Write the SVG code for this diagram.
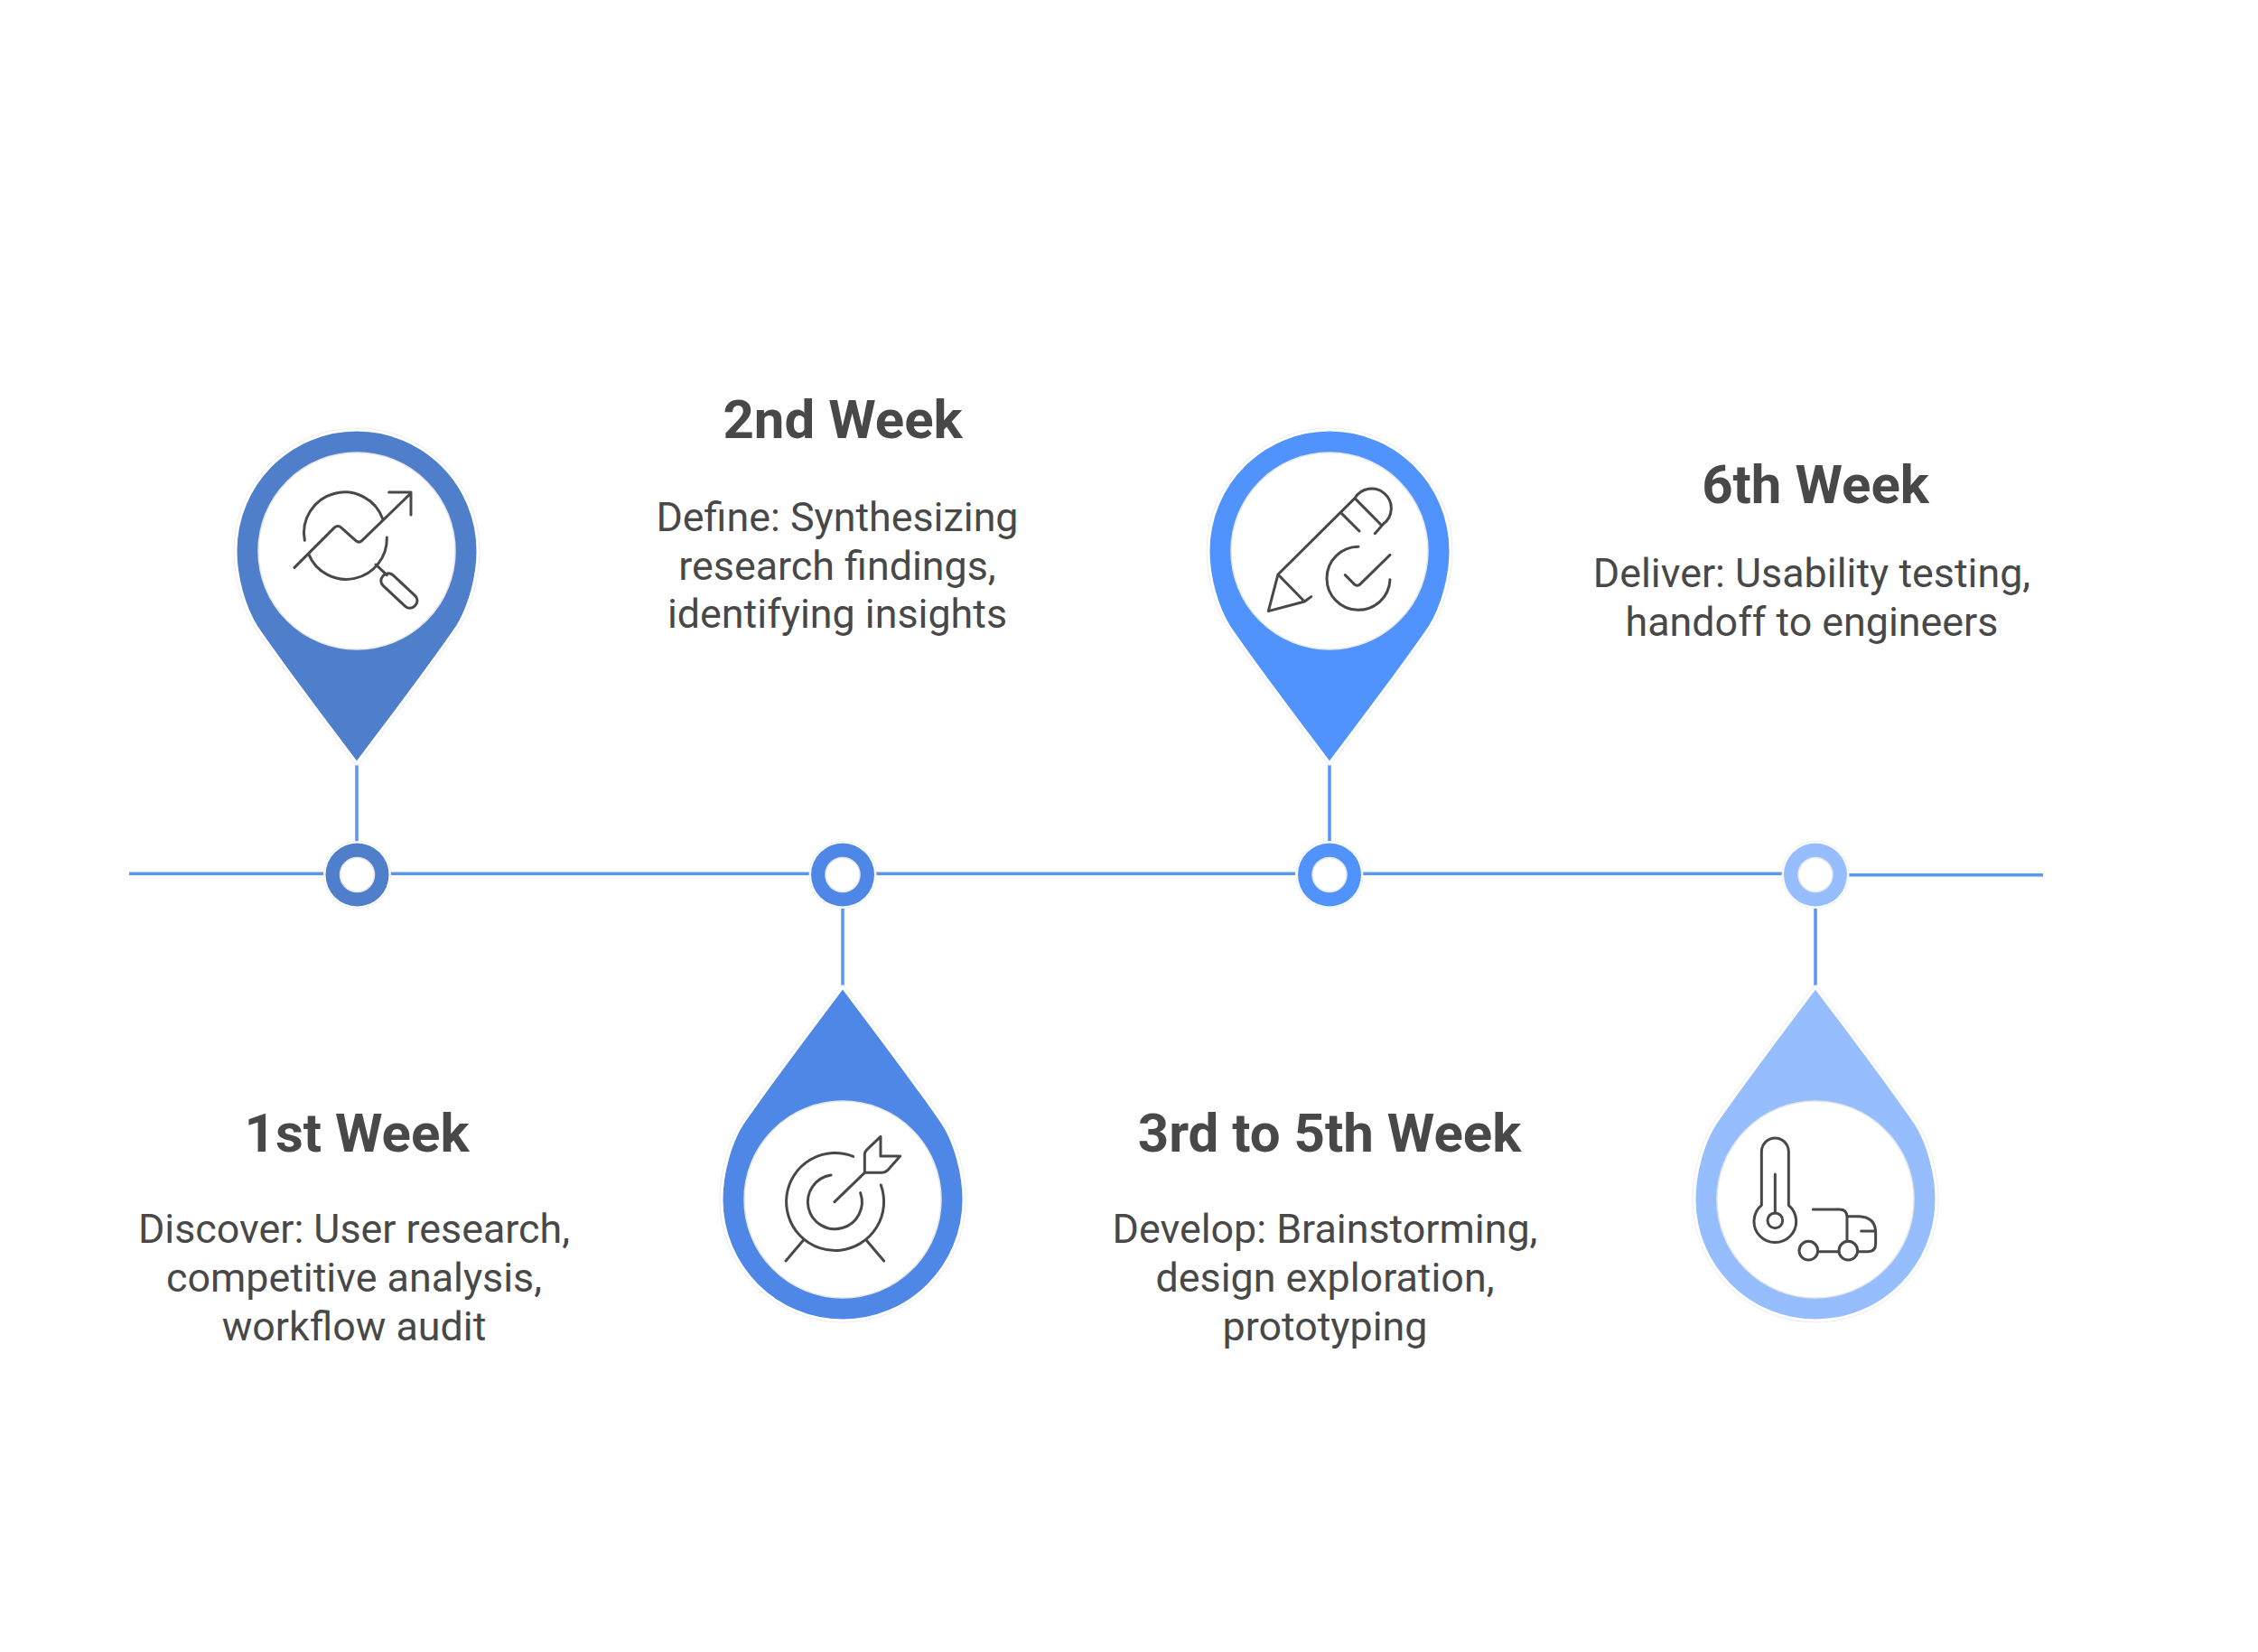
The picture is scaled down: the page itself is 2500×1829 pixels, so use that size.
<svg xmlns="http://www.w3.org/2000/svg" width="2500" height="1829" viewBox="0 0 2500 1829">
<style>
.h{font:700 60px Roboto,"Liberation Sans",sans-serif;fill:#484848;text-anchor:middle}
.b{font:400 44.8px Roboto,"Liberation Sans",sans-serif;fill:#484848;text-anchor:middle}
.c{stroke:#5a96f5;stroke-width:3.5;fill:none}
.i{fill:none;stroke:#484848;stroke-width:9;stroke-linecap:round;stroke-linejoin:round}
.ha{fill:none;stroke:#eceef1;stroke-width:5;stroke-linejoin:round}
.wh{stroke:#fff;stroke-width:3;stroke-linejoin:round}
.w{fill:#fff;stroke:#e4e6ea;stroke-width:1.5}
.n{fill:#fff;stroke:#eceef1;stroke-width:1}
</style>
<defs>
<path id="pinUp" d="M0 235C-26 200-76 135-111 84C-125 62-134 28-134 0C-134-74-74-134 0-134S134-74 134 0C134 28 125 62 111 84C76 135 26 200 0 235Z"/>
</defs>
<rect width="2500" height="1829" fill="#fff"/>
<g id="connectors">
<path class="c" d="M143 967.3H358M432 967.3H896M970 967.3H1434M1508 967.3H1973M2047 968.7H2262"/>
<path class="c" d="M395 847V932M933 1005V1091M1472 847V932M2010 1005V1091"/>
</g>
<g id="node1">
<use href="#pinUp" x="395" y="610" class="ha"/>
<use href="#pinUp" x="395" y="610" class="wh" fill="#4f7fcb"/>
<circle class="w" cx="395" cy="610" r="109"/>
<circle class="n" cx="395.5" cy="968.5" r="37"/><circle cx="395.5" cy="968.5" r="35" fill="#4f7fcb"/><circle class="w" cx="395.5" cy="968.5" r="19"/>
<g class="i" transform="translate(320 520) scale(.3333)">
<path d="M18 325L150 193Q162 182 174 193L222 236Q232 245 242 236L405 78M332 75H405V150"/>
<path d="M52 235A135 135 0 0 1 312 165M325 225A135 135 0 0 1 65 280M288 315L325 350"/>
<rect x="-62" y="-24" width="145" height="48" rx="22" transform="translate(358 395) rotate(43)"/>
</g>
</g>
<g id="node2">
<use href="#pinUp" transform="translate(933 1328) scale(1 -1)" class="ha"/>
<use href="#pinUp" transform="translate(933 1328) scale(1 -1)" class="wh" fill="#4f87e6"/>
<circle class="w" cx="933" cy="1328" r="109"/>
<circle class="n" cx="933" cy="968.5" r="37"/><circle cx="933" cy="968.5" r="35" fill="#4f87e6"/><circle class="w" cx="933" cy="968.5" r="19"/>
<g class="i" transform="translate(850 1240) scale(.3333)">
<path d="M222 272L322 175H380Q390 175 398 167L440 120H375V55L328 100Q322 106 322 115V175"/>
<path d="M284 121A162 162 0 1 0 376 216M210 183A90 90 0 1 0 308 242M118 400L60 468M328 400L386 468"/>
</g>
</g>
<g id="node3">
<use href="#pinUp" x="1472" y="610" class="ha"/>
<use href="#pinUp" x="1472" y="610" class="wh" fill="#5093fd"/>
<circle class="w" cx="1472" cy="610" r="109"/>
<circle class="n" cx="1472" cy="968.5" r="37"/><circle cx="1472" cy="968.5" r="35" fill="#5093fd"/><circle class="w" cx="1472" cy="968.5" r="19"/>
<g class="i" transform="translate(1390 520) scale(.3333)">
<path d="M75 348L330 95A65 65 0 1 1 425 180L397 212M330 95L420 186M283 142L345 204M75 348L163 438L185 422M75 348L43 470L163 438"/>
<path d="M342 256A105 105 0 1 0 447 365M298 350L330 382Q338 388 346 382L447 283"/>
</g>
</g>
<g id="node4">
<use href="#pinUp" transform="translate(2010 1328) scale(1 -1)" class="ha"/>
<use href="#pinUp" transform="translate(2010 1328) scale(1 -1)" class="wh" fill="#96bdfe"/>
<circle class="w" cx="2010" cy="1328" r="109"/>
<circle class="n" cx="2010" cy="968.5" r="37"/><circle cx="2010" cy="968.5" r="35" fill="#96bdfe"/><circle class="w" cx="2010" cy="968.5" r="19"/>
<g class="i" transform="translate(1920 1240) scale(.3333)">
<path d="M91 283V105A45 45 0 0 1 181 105V283A70 70 0 1 1 91 283Z"/>
<circle cx="136" cy="334" r="25"/><path d="M136 309V180"/>
<circle cx="247" cy="434" r="31"/><circle cx="379" cy="434" r="31"/>
<path d="M278 437H348M410 437H445Q470 437 470 412V375Q470 322 415 320H375M262 297H350Q375 297 375 322V403M422 369H470"/>
</g>
</g>
<g id="text1"><text class="h" x="395" y="1275">1st Week</text>
<text class="b" x="392" y="1376">Discover: User research,</text><text class="b" x="392" y="1430">competitive analysis,</text><text class="b" x="392" y="1484">workflow audit</text></g>
<g id="text2"><text class="h" x="933" y="485">2nd Week</text>
<text class="b" x="927" y="588">Define: Synthesizing</text><text class="b" x="927" y="642">research findings,</text><text class="b" x="927" y="695">identifying insights</text></g>
<g id="text3"><text class="h" x="1472" y="1275">3rd to 5th Week</text>
<text class="b" x="1467" y="1376">Develop: Brainstorming,</text><text class="b" x="1467" y="1430">design exploration,</text><text class="b" x="1467" y="1484">prototyping</text></g>
<g id="text4"><text class="h" x="2010" y="557">6th Week</text>
<text class="b" x="2006" y="650">Deliver: Usability testing,</text><text class="b" x="2006" y="704">handoff to engineers</text></g>
</svg>
